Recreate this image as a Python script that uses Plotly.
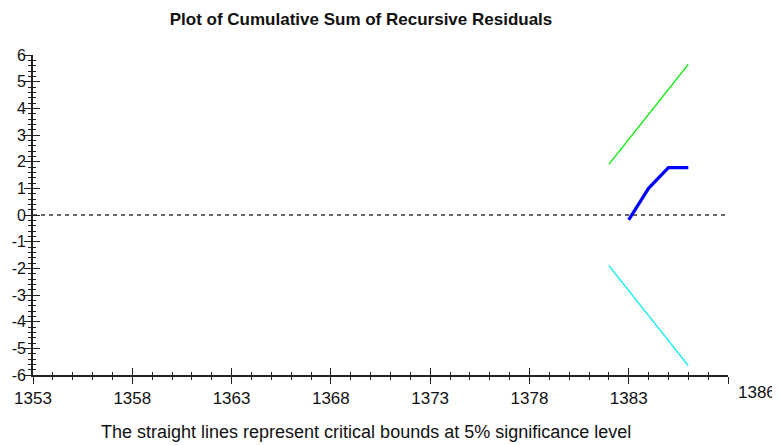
import plotly.graph_objects as go

# ---- data ----
cusum_years = [1383, 1384, 1385, 1386]
cusum_values = [-0.18, 1.0, 1.78, 1.78]
bound_years = [1382, 1386]
upper_bound = [1.9, 5.65]
lower_bound = [-1.9, -5.65]
zero_years = [1353, 1388]
zero_values = [0, 0]
x_tick_vals = [1353, 1358, 1363, 1368, 1373, 1378, 1383, 1388]
x_tick_text = ["1353", "1358", "1363", "1368", "1373", "1378", "1383", ""]
end_label = "1386"
y_tick_vals = [-6, -5, -4, -3, -2, -1, 0, 1, 2, 3, 4, 5, 6]
y_tick_text = ["-6", "-5", "-4", "-3", "-2", "-1", "0", "1", "2", "3", "4", "5", "6"]
title_text = "Plot of Cumulative Sum of Recursive Residuals"
footer_text = "The straight lines represent critical bounds at 5% significance level"

FONT = "Liberation Sans, Arial, sans-serif"
AX = "#222222"
TXT = "#111111"
xr = [1353, 1388]
yr = [-6, 6]

# the page has an 8px body margin, so the figure is sized to fit the window
W, H = 772, 437
L, R, T, B = 25, 52, 47, 70

fig = go.Figure()
fig.add_trace(go.Scatter(x=zero_years, y=zero_values, mode="lines",
                         line=dict(color="#333333", width=1.5, dash="4px,4px"),
                         hoverinfo="skip"))
fig.add_trace(go.Scatter(x=bound_years, y=upper_bound, mode="lines",
                         line=dict(color="#00ee00", width=1.3)))
fig.add_trace(go.Scatter(x=bound_years, y=lower_bound, mode="lines",
                         line=dict(color="#00f0f0", width=1.3)))
fig.add_trace(go.Scatter(x=cusum_years, y=cusum_values, mode="lines",
                         line=dict(color="#0000ff", width=3.2)))
# helper trace for overlay axes (crossing ticks)
fig.add_trace(go.Scatter(x=zero_years, y=zero_values, mode="lines", xaxis="x2", yaxis="y2",
                         line=dict(color="rgba(0,0,0,0)", width=0), hoverinfo="skip"))


def xaxis(direction, labels):
    return dict(range=xr, tickmode="array", tickvals=x_tick_vals, ticktext=x_tick_text,
                showgrid=False, zeroline=False, automargin=False,
                ticks=direction, tickcolor=AX, tickwidth=1.3, ticklen=7,
                minor=dict(tickmode="linear", tick0=1353, dtick=1, ticklen=3,
                           ticks=direction, tickcolor=AX, tickwidth=1.3),
                showticklabels=labels,
                tickfont=dict(size=17, family=FONT, color=TXT))


def yaxis(direction, labels):
    return dict(range=yr, tickmode="array", tickvals=y_tick_vals, ticktext=y_tick_text,
                showgrid=False, zeroline=False, automargin=False,
                ticks=direction, tickcolor=AX, tickwidth=1.3, ticklen=7,
                minor=dict(tickmode="linear", tick0=-6, dtick=0.2, ticklen=3,
                           ticks=direction, tickcolor=AX, tickwidth=1.3),
                showticklabels=labels,
                tickfont=dict(size=16, family=FONT, color=TXT))


xa = xaxis("outside", True)
xa.update(showline=True, linecolor=AX, linewidth=1.6)
ya = yaxis("outside", False)
ya.update(showline=True, linecolor=AX, linewidth=1.6)
xa2 = xaxis("inside", False)
xa2.update(showline=False, overlaying="x", anchor="y2", side="bottom")
ya2 = yaxis("inside", True)
ya2.update(showline=False, overlaying="y", anchor="x2", side="left", ticklabelstandoff=6)

fig.update_layout(
    width=W, height=H,
    margin=dict(l=L, r=R, t=T, b=B, pad=0),
    plot_bgcolor="white", paper_bgcolor="white",
    showlegend=False,
    font=dict(family=FONT, color=TXT),
    title=dict(text="<b>" + title_text + "</b>", x=353 / W, xref="container",
               xanchor="center", y=1 - 11 / H, yref="container", yanchor="middle",
               font=dict(size=17, family=FONT, color=TXT)),
    xaxis=xa, yaxis=ya, xaxis2=xa2, yaxis2=ya2,
)

plot_w = W - L - R
plot_h = H - T - B
fig.add_annotation(text=end_label, x=1388, y=-17 / plot_h, xref="x", yref="paper",
                   xanchor="left", yanchor="middle", xshift=8, showarrow=False,
                   font=dict(size=17, family=FONT, color=TXT))
fig.add_annotation(text=footer_text, x=(358 - L) / plot_w, y=-(424 - (H - B)) / plot_h,
                   xref="paper", yref="paper",
                   xanchor="center", yanchor="middle", showarrow=False,
                   font=dict(size=18, family=FONT, color=TXT))

fig.write_html("out.html")
